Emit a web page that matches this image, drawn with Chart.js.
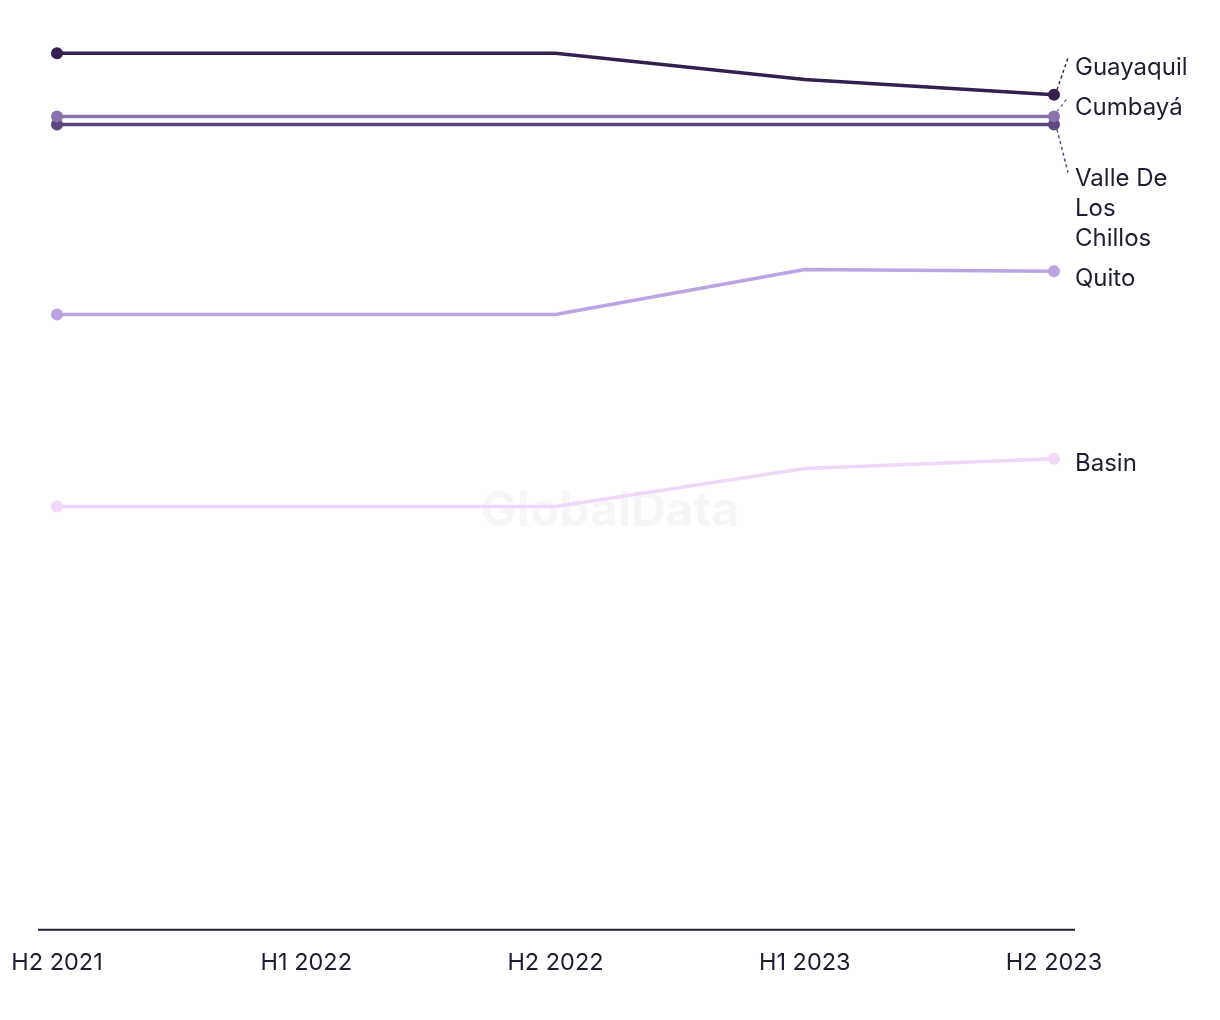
<!DOCTYPE html>
<html>
<head>
<meta charset="utf-8">
<script src="https://cdn.jsdelivr.net/npm/chart.js@4"></script>
<style>
  html, body { margin: 0; padding: 0; background: #fff; }
  #wrap { width: 1220px; height: 1020px; }
</style>
</head>
<body>
<div id="wrap"><canvas id="chart"></canvas></div>
<script>
// Datos (escala relativa 0-100)
const periods = ['H2 2021', 'H1 2022', 'H2 2022', 'H1 2023', 'H2 2023'];
const seriesNames = ['Guayaquil', 'Cumbayá', 'Valle De Los Chillos', 'Quito', 'Basin'];
const guayaquil = [97.3, 97.3, 97.3, 94.4, 92.7];
const cumbaya = [90.3, 90.3, 90.3, 90.3, 90.3];
const valle = [89.4, 89.4, 89.4, 89.4, 89.4];
const quito = [68.3, 68.3, 68.3, 73.3, 73.1];
const basin = [47.0, 47.0, 47.0, 51.2, 52.3];

const colors = ['#33204f', '#8a72ae', '#5e4680', '#bca3e2', '#f0d8fb'];
// posición del texto relativa al último punto (px) y líneas por etiqueta
const labelShift = [-27, -9, 84, 7, 5];
const labelLines = [['Guayaquil'], ['Cumbayá'], ['Valle De', 'Los', 'Chillos'], ['Quito'], ['Basin']];

const FONT = 'Inter, "Liberation Sans", sans-serif';
const TEXT = '#1d1d33';

const values = [guayaquil, cumbaya, valle, quito, basin];

// Marca de agua, eje inferior y etiquetas a la derecha
const decorPlugin = {
  id: 'decor',
  beforeDatasetsDraw(chart) {
    const ctx = chart.ctx;
    const a = chart.chartArea;
    ctx.save();
    ctx.fillStyle = 'rgba(0,0,0,0.035)';
    ctx.font = 'bold 48px ' + FONT;
    ctx.textAlign = 'center';
    ctx.textBaseline = 'middle';
    ctx.fillText('GlobalData', 610, 512);
    ctx.strokeStyle = '#1d1d33';
    ctx.lineWidth = 2;
    ctx.beginPath();
    ctx.moveTo(a.left - 19, a.bottom);
    ctx.lineTo(a.right + 21, a.bottom);
    ctx.stroke();
    ctx.restore();
  },
  afterDatasetsDraw(chart) {
    const ctx = chart.ctx;
    ctx.save();
    ctx.font = '24px ' + FONT;
    ctx.fillStyle = TEXT;
    ctx.textBaseline = 'middle';
    chart.data.datasets.forEach((ds, i) => {
      const meta = chart.getDatasetMeta(i);
      const pt = meta.data[meta.data.length - 1];
      const lines = labelLines[i];
      const lh = 30;
      const cy = pt.y + labelShift[i];
      const top = cy - (lines.length - 1) * lh / 2;
      const tx = pt.x + 21;
      lines.forEach((t, k) => ctx.fillText(t, tx, top + k * lh));
      if (Math.abs(labelShift[i]) > 8) {
        // línea guía punteada hacia la etiqueta
        const ty = labelShift[i] < 0 ? top - 10 : top - 6;
        ctx.save();
        ctx.strokeStyle = ds.borderColor;
        ctx.lineWidth = 1.5;
        ctx.setLineDash([3, 3]);
        ctx.beginPath();
        ctx.moveTo(pt.x + 3, pt.y + (labelShift[i] < 0 ? -5 : 5));
        ctx.lineTo(tx - 7, ty);
        ctx.stroke();
        ctx.restore();
      }
    });
    ctx.restore();
  }
};

new Chart(document.getElementById('chart'), {
  type: 'line',
  data: {
    labels: periods,
    datasets: seriesNames.map((name, i) => ({
      label: name,
      data: values[i],
      borderColor: colors[i],
      backgroundColor: colors[i],
      borderWidth: 3.5,
      pointRadius: values[i].map((v, k) => (k === 0 || k === values[i].length - 1) ? 6 : 0),
      pointBorderWidth: 0,
      tension: 0,
      order: i
    }))
  },
  options: {
    responsive: true,
    maintainAspectRatio: false,
    animation: false,
    layout: { padding: { left: 57, right: 166, top: 29, bottom: 24 } },
    plugins: { legend: { display: false }, tooltip: { enabled: false } },
    scales: {
      x: {
        grid: { display: false, drawTicks: false },
        border: { display: false },
        ticks: { color: TEXT, font: { family: FONT, size: 23.5 }, padding: 19, maxRotation: 0, autoSkip: false },
        afterFit(scale) { scale.paddingLeft = 0; scale.paddingRight = 0; }
      },
      y: { display: false, min: 0, max: 100 }
    }
  },
  plugins: [decorPlugin]
});
</script>
</body>
</html>
